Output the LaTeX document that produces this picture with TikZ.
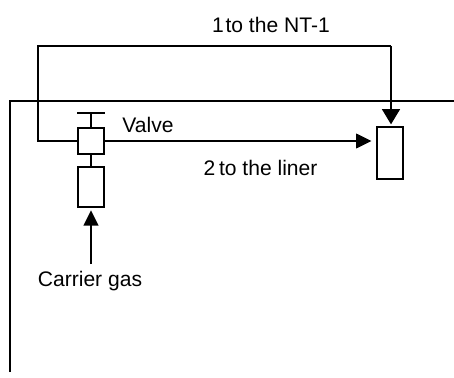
\documentclass[tikz,border=0pt]{standalone}
\usepackage{fontspec}
\setmainfont{Liberation Sans}
\usepackage{tikz}
\usetikzlibrary{arrows.meta}
\def\vessel{\node[draw,line width=1.4pt,inner sep=0pt,minimum width=19.5pt]}
\tikzset{gasflow/.style={-{Triangle[length=11.5pt,width=11pt]},shorten >=1.5pt},
  gaslabel/.style={font=\fontsize{15.8}{18}\selectfont,inner sep=0pt}}
\begin{document}
\begin{tikzpicture}[x=0.75pt,y=-0.75pt,line width=1.4pt]
\useasboundingbox (0,0) rectangle (454,378);
\vessel[minimum height=19.5pt] (valve) at (91,141) {};
\vessel[minimum height=30pt] (tube) at (91,187.3) {};
\vessel[minimum height=39pt] (liner) at (390,153.3) {};
\node[gaslabel] (vlabel) at (148,124.5) {Valve};
\node[gaslabel] (nt) at (271,25) {1\hspace{-0.2em} to the NT-1};
\node[gaslabel] (toliner) at (260.5,167.5) {2\hspace{-0.1em} to the liner};
\node[gaslabel] (carrier) at (90,281) {Carrier gas};
\coordinate (wallb) at (10,372);
\coordinate (wallc) at (10,101);
\coordinate (walle) at (454,101);
\coordinate (stem) at (91,113);
\coordinate (barl) at (77,113);
\coordinate (barr) at (105,113);
\coordinate (gasin) at (91,264);
\coordinate (la) at (38,141);
\coordinate (lb) at (38,46);
\coordinate (lc) at (391,46);
\draw (wallb) -- (wallc) -- (walle);
\draw (barl) -- (barr);
\draw (stem) -- (valve);
\draw (valve) -- (tube);
\draw (valve.west) -- (la) -- (lb) -- (lc);
\draw[gasflow,-{Triangle[length=11.5pt,width=13.5pt]}] (lc) -- (liner.north -| lc);
\draw[gasflow,shorten >=3.5pt] (valve.east) -- (liner.west |- valve.east);
\draw[gasflow] (gasin) -- (tube);
\end{tikzpicture}
\end{document}
